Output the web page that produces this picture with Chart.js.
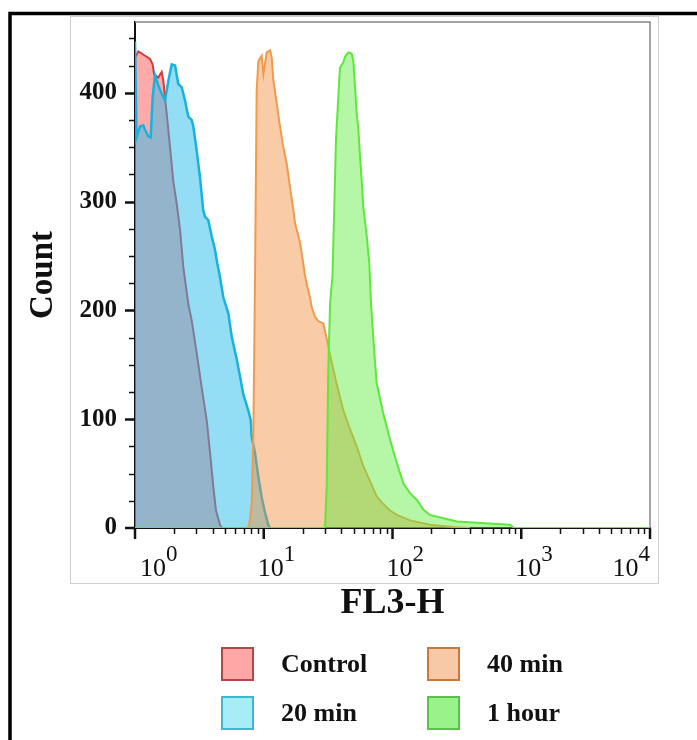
<!DOCTYPE html>
<html>
<head>
<meta charset="utf-8">
<script src="https://cdn.jsdelivr.net/npm/chart.js@4.4.1/dist/chart.umd.min.js"></script>
<style>
  html, body { margin: 0; padding: 0; background: #fff; }
  #wrap { position: relative; width: 697px; height: 740px; overflow: hidden; }
  #grafica { position: absolute; left: 0; top: 0; }
  #leyenda {
    position: absolute; left: 221px; top: 647px;
    display: grid; grid-auto-flow: column;
    grid-template-rows: 49px 49px; grid-template-columns: 206px 206px;
    font: bold 26px "Liberation Serif", "Times New Roman", serif; color: #111;
  }
  .item { display: flex; align-items: center; height: 34px; }
  .cuadro { width: 33px; height: 34px; box-sizing: border-box; border: 2px solid; margin-right: 27px; }
</style>
</head>
<body>
<div id="wrap">
  <canvas id="grafica" width="697" height="740"></canvas>
  <div id="leyenda"></div>
</div>
<script>
// === DATOS (exponente log10 de FL3-H, cuentas) ===
const controlExp = [0.000, 0.026, 0.078, 0.117, 0.137, 0.148, 0.181, 0.207, 0.220, 0.233, 0.246, 0.272, 0.297,
  0.324, 0.350, 0.375, 0.414, 0.440, 0.479, 0.518, 0.557, 0.583, 0.608, 0.629, 0.660, 0.676];
const controlCount = [432, 438, 434, 431, 426, 417, 414, 419, 411, 396, 381, 350, 319,
  298, 274, 240, 206, 191, 161, 129, 99, 69, 38, 16, 3, 0];

const min20Exp = [0.000, 0.012, 0.039, 0.064, 0.078, 0.103, 0.122, 0.137, 0.155, 0.181, 0.207, 0.233, 0.259,
  0.285, 0.311, 0.336, 0.363, 0.388, 0.414, 0.440, 0.453, 0.479, 0.505, 0.530, 0.544, 0.569, 0.596, 0.621,
  0.639, 0.655, 0.686, 0.725, 0.751, 0.790, 0.816, 0.841, 0.880, 0.899, 0.906, 0.932, 0.958, 0.984, 1.010,
  1.035, 1.049];
const min20Count = [447, 359, 369, 370, 366, 360, 359, 396, 416, 407, 399, 393, 411,
  426, 425, 408, 405, 393, 378, 375, 369, 347, 322, 292, 286, 283, 268, 256,
  243, 234, 212, 197, 176, 155, 139, 123, 108, 99, 84, 69, 47, 28, 14,
  3, 0];

const min40Exp = [0.870, 0.888, 0.906, 0.919, 0.932, 0.945, 0.958, 0.984, 0.997, 1.023, 1.049, 1.062, 1.075,
  1.101, 1.126, 1.152, 1.178, 1.204, 1.230, 1.243, 1.256, 1.282, 1.307, 1.320, 1.334, 1.359, 1.372, 1.398,
  1.424, 1.463, 1.489, 1.528, 1.567, 1.618, 1.670, 1.722, 1.773, 1.825, 1.877, 1.929, 1.981, 2.033, 2.136,
  2.291, 2.470, 2.600];
const min40Count = [0, 3, 22, 84, 227, 402, 429, 434, 417, 437, 439, 432, 411,
  390, 369, 350, 335, 313, 292, 280, 274, 262, 243, 232, 224, 212, 203, 194,
  190, 188, 174, 152, 132, 108, 91, 75, 57, 43, 29, 22, 16, 12, 7,
  3, 1, 0];

const hourExp = [0.000, 1.468, 1.476, 1.489, 1.501, 1.515, 1.534, 1.553, 1.561, 1.579, 1.592, 1.618, 1.631,
  1.657, 1.683, 1.696, 1.709, 1.722, 1.735, 1.748, 1.761, 1.773, 1.800, 1.820, 1.833, 1.859, 1.877, 1.929,
  1.981, 2.033, 2.084, 2.136, 2.188, 2.239, 2.291, 2.395, 2.499, 2.628, 2.783, 2.913, 2.944, 4.000];
const hourCount = [0, 0, 1, 38, 145, 206, 232, 319, 357, 396, 423, 428, 433,
  437, 436, 429, 405, 381, 366, 341, 319, 295, 268, 243, 206, 161, 133, 105,
  81, 60, 41, 32, 26, 17, 12, 9, 6, 5, 4, 3, 0, 0];

const etiquetas = ['Control', '20 min', '40 min', '1 hour'];
const bordes = ['#d9383c', '#19b2df', '#f19a4e', '#5ee83e'];
const rellenos = ['rgba(255,85,85,0.5)', 'rgba(40,190,235,0.5)', 'rgba(245,140,60,0.45)', 'rgba(90,235,60,0.45)'];
const leyendaRelleno = ['#ffa7a7', '#a8ecf8', '#f8c9a6', '#9af38a'];
const leyendaBorde = ['#b5454a', '#3cb9cc', '#c97a3a', '#5cc04c'];

const yTicks = [0, 100, 200, 300, 400];
const xExponentes = [0, 1, 2, 3, 4];

const serif = '"Liberation Serif", "Times New Roman", serif';

function puntos(exps, cuentas) {
  return exps.map((e, i) => ({ x: Math.pow(10, e), y: cuentas[i] }));
}

const series = [
  puntos(controlExp, controlCount),
  puntos(min20Exp, min20Count),
  puntos(min40Exp, min40Count),
  puntos(hourExp, hourCount)
];

// === MARCO, CAJA, MARCAS Y ETIQUETAS X ===
const marco = {
  id: 'marco',
  beforeDraw(chart) {
    const c = chart.ctx;
    c.save();
    c.fillStyle = '#fff';
    c.fillRect(0, 0, chart.width, chart.height);
    c.strokeStyle = '#000';
    c.lineWidth = 3.5;
    c.beginPath();
    c.moveTo(10, 760); c.lineTo(10, 13.5); c.lineTo(720, 13.5);
    c.stroke();
    c.strokeStyle = '#d0d0d0';
    c.lineWidth = 1;
    c.strokeRect(70.5, 16.5, 588, 567);
    c.restore();
  },
  beforeDatasetsDraw(chart) {
    const { left, top, right, bottom } = chart.chartArea;
    const c = chart.ctx;
    c.save();
    c.strokeStyle = '#858585';
    c.lineWidth = 1.5;
    c.beginPath();
    c.moveTo(left, top); c.lineTo(right, top); c.lineTo(right, bottom);
    c.stroke();
    c.restore();
  },
  afterDraw(chart) {
    const c = chart.ctx;
    const x = chart.scales.x, y = chart.scales.y;
    const { left, right, bottom } = chart.chartArea;
    c.save();
    c.strokeStyle = '#111';
    // marcas eje y
    for (let v = 25; v <= 450; v += 25) {
      const py = Math.round(y.getPixelForValue(v)) + 0.5;
      const mayor = v % 100 === 0;
      c.lineWidth = mayor ? 2.5 : 1.5;
      c.beginPath(); c.moveTo(left - (mayor ? 10 : 6), py); c.lineTo(left, py); c.stroke();
    }
    c.lineWidth = 2.5;
    c.beginPath(); c.moveTo(left - 10, bottom); c.lineTo(left, bottom); c.stroke();
    // marcas eje x
    for (let e = 0; e <= 4; e++) {
      const px = x.getPixelForValue(Math.pow(10, e));
      c.lineWidth = 2.5;
      c.beginPath(); c.moveTo(px, bottom); c.lineTo(px, bottom + 11); c.stroke();
      if (e === 4) break;
      for (let m = 2; m <= 9; m++) {
        const pm = Math.round(x.getPixelForValue(m * Math.pow(10, e))) + 0.5;
        c.lineWidth = 1.5;
        c.beginPath(); c.moveTo(pm, bottom); c.lineTo(pm, bottom + 6); c.stroke();
      }
    }
    // etiquetas 10^n
    c.fillStyle = '#111';
    c.textAlign = 'left';
    c.textBaseline = 'alphabetic';
    xExponentes.forEach(e => {
      const px = x.getPixelForValue(Math.pow(10, e));
      c.font = '26px ' + serif;
      const w1 = c.measureText('10').width;
      c.font = '23px ' + serif;
      const w2 = c.measureText(String(e)).width;
      let sx = px - 6;
      sx = Math.max(left + 5, Math.min(sx, right - w1 - w2));
      c.font = '26px ' + serif;
      c.fillText('10', sx, 576);
      c.font = '23px ' + serif;
      c.fillText(String(e), sx + w1, 561);
    });
    c.restore();
  }
};

// === GRÁFICA ===
const ctx = document.getElementById('grafica').getContext('2d');
new Chart(ctx, {
  type: 'line',
  data: {
    datasets: series.map((d, i) => ({
      label: etiquetas[i],
      data: d,
      borderColor: bordes[i],
      backgroundColor: rellenos[i],
      borderWidth: i === 1 ? 2.5 : 2,
      fill: 'origin',
      pointRadius: 0,
      tension: 0,
      order: 3 - i
    }))
  },
  options: {
    responsive: false,
    animation: false,
    devicePixelRatio: 1,
    layout: { padding: { left: 0, top: 22, right: 47, bottom: 115 } },
    plugins: { legend: { display: false }, tooltip: { enabled: false } },
    scales: {
      x: {
        type: 'logarithmic',
        min: 1,
        max: 10000,
        grid: { display: false, drawTicks: false },
        border: { display: true, color: '#111', width: 2 },
        ticks: { display: false },
        title: { display: true, text: 'FL3-H', color: '#111', padding: 0,
          font: { family: serif, size: 36, weight: 'bold' } },
        afterFit: s => { s.height = 97; s.paddingLeft = 0; s.paddingRight = 0; }
      },
      y: {
        min: 0,
        max: 465,
        grid: { display: false, drawTicks: false },
        border: { display: true, color: '#111', width: 2 },
        afterBuildTicks: s => { s.ticks = yTicks.map(v => ({ value: v })); },
        ticks: { color: '#111', padding: 18, font: { family: serif, size: 25, weight: 'bold' } },
        title: { display: true, text: 'Count', color: '#111', padding: { top: 24, bottom: 0 },
          font: { family: serif, size: 33, weight: 'bold' } },
        afterFit: s => { s.width = 135; s.paddingTop = 0; s.paddingBottom = 0; }
      }
    }
  },
  plugins: [marco]
});

// === LEYENDA ===
const leyenda = document.getElementById('leyenda');
etiquetas.forEach((t, i) => {
  const item = document.createElement('div');
  item.className = 'item';
  const cuadro = document.createElement('div');
  cuadro.className = 'cuadro';
  cuadro.style.background = leyendaRelleno[i];
  cuadro.style.borderColor = leyendaBorde[i];
  const texto = document.createElement('span');
  texto.textContent = t;
  item.appendChild(cuadro);
  item.appendChild(texto);
  leyenda.appendChild(item);
});
</script>
</body>
</html>
